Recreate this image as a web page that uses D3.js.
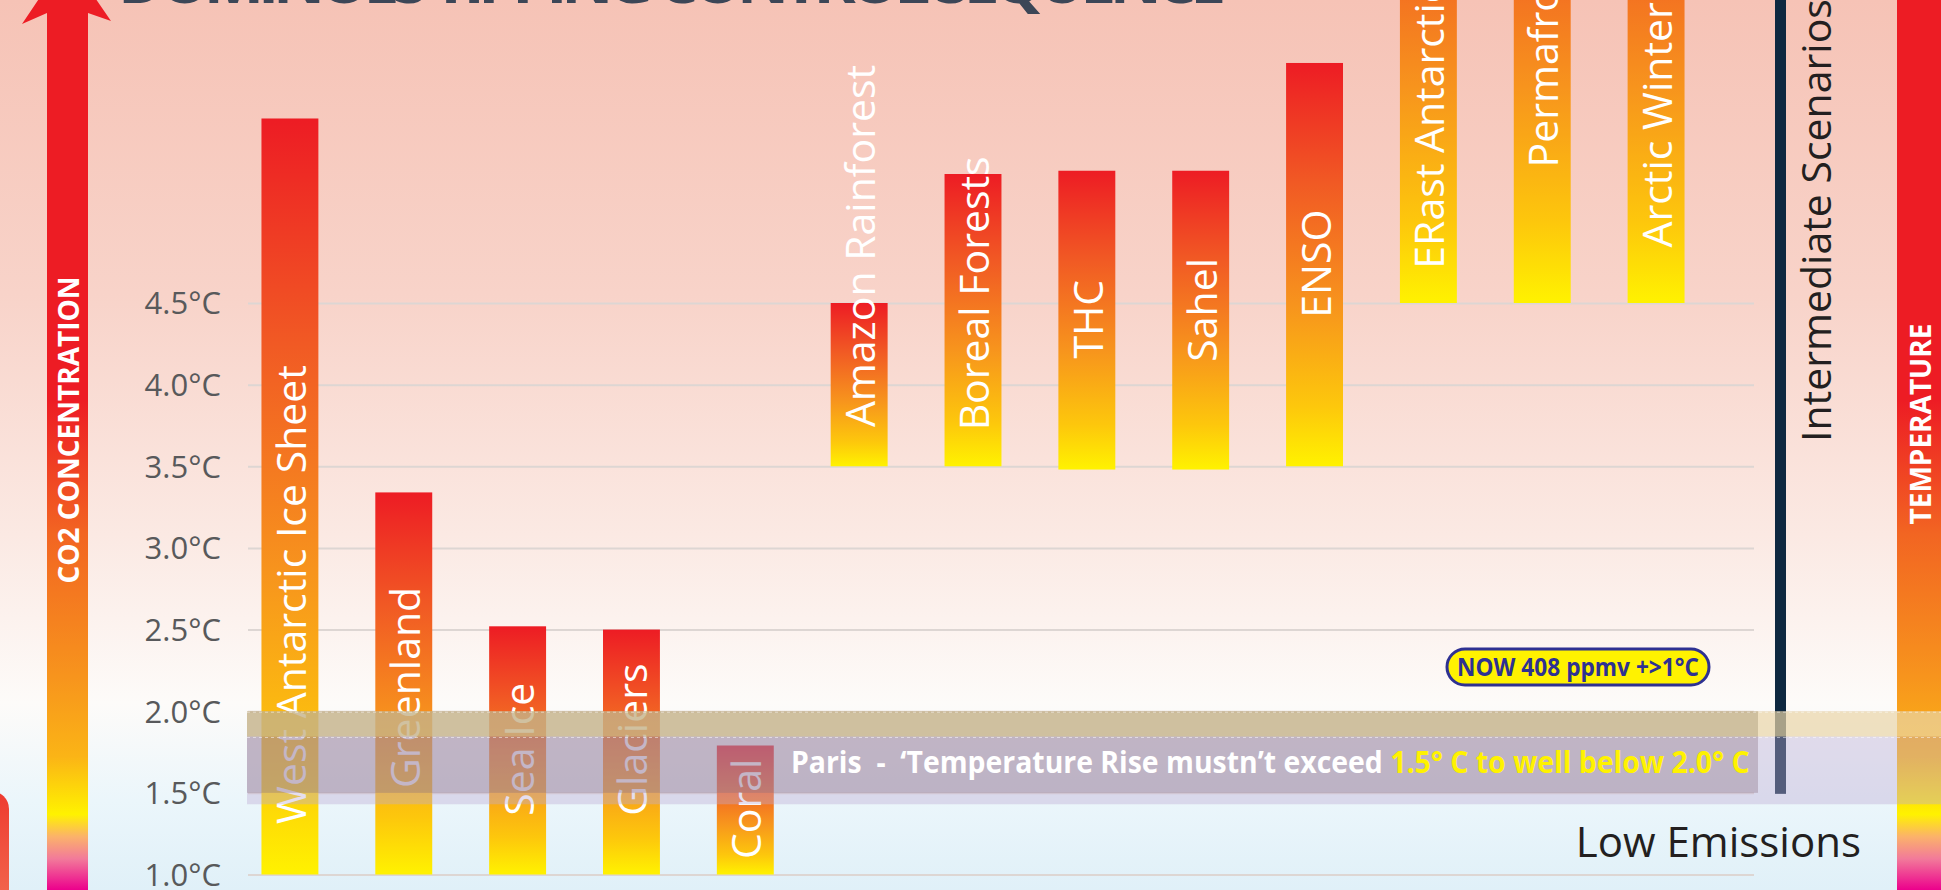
<!DOCTYPE html>
<html>
<head>
<meta charset="utf-8">
<script src="https://cdn.jsdelivr.net/npm/d3@7"></script>
<style>
  body { margin: 0; overflow: hidden; background: #fff; }
  text { font-family: "Open Sans", "Noto Sans", sans-serif; }
</style>
</head>
<body>
<script>
var categories = ["West Antarctic Ice Sheet", "Greenland", "Sea Ice", "Glaciers", "Coral",
    "Amazon Rainforest", "Boreal Forests", "THC", "Sahel", "ENSO",
    "ERast Antarctic Ice Sheet", "Permafrost", "Arctic Winter Sea Ice"]
// bottom and top of each threshold range, in °C
var lowTemps = [1.0, 1.0, 1.0, 1.0, 1.0, 3.5, 3.5, 3.48, 3.48, 3.5, 4.5, 4.5, 4.5]
var highTemps = [5.63, 3.34, 2.52, 2.50, 1.79, 4.5, 5.29, 5.31, 5.31, 5.97, 7.8, 7.8, 7.8]
// where each label starts, in °C
var labelTemps = [1.31, 1.53, 1.36, 1.36, 1.095, 3.74, 3.72, 4.16, 4.14, 4.41, 4.71, 5.33, 4.84]
var tickTemps = [1.0, 1.5, 2.0, 2.5, 3.0, 3.5, 4.0, 4.5]
var parisRange = [1.5, 2.0]
var parisTanEdge = 1.845
var lightBandLow = 1.43

var width = 1941, height = 890

var svg = d3.select("body").append("svg")
    .attr("width", width)
    .attr("height", height)
var defs = svg.append("defs")

function vGrad(id, stops, userSpace) {
    var g = defs.append("linearGradient")
        .attr("id", id)
        .attr("x1", 0).attr("x2", 0)
    if (userSpace) {
        g.attr("gradientUnits", "userSpaceOnUse").attr("y1", 0).attr("y2", height)
    } else {
        g.attr("y1", 0).attr("y2", 1)
    }
    stops.forEach(s => {
        g.append("stop").attr("offset", s[0]).attr("stop-color", s[1])
    })
}

vGrad("bg", [[0, "#f6c3b6"], [0.33, "#f8d3c9"], [0.6, "#fbe9e3"], [0.79, "#fdfbf9"], [0.9, "#ebf6fb"], [1, "#e0f0f8"]])
vGrad("bar", [[0, "#ed1c24"], [0.3, "#f15a24"], [0.6, "#f7941d"], [0.85, "#fdc70c"], [1, "#fff200"]])
vGrad("scale", [[0, "#ed1c24"], [0.45, "#ed1c24"], [0.6, "#f26522"], [0.76, "#f7941d"], [0.85, "#fbb416"],
    [0.915, "#fff200"], [0.94, "#fbb26a"], [0.965, "#f27a9a"], [1, "#ec008c"]], true)
vGrad("stub", [[0, "#ee3a2f"], [1, "#f37356"]])

svg.append("rect")
    .attr("width", width)
    .attr("height", height)
    .attr("fill", "url(#bg)")

var x = d3.scaleBand()
    .domain(categories)
    .range([233, 1713])
    .paddingInner(0.5)
    .paddingOuter(0.25)

var y = d3.scaleLinear()
    .domain([1.0, 4.5])
    .range([874.5, 303])

// left arrow
svg.append("path")
    .attr("d", "M67,-43 L111,21 L88,13 L88,890 L47,890 L47,13 L22,24 Z")
    .attr("fill", "url(#scale)")
svg.append("rect")
    .attr("x", -40).attr("y", 791)
    .attr("width", 49).attr("height", 140)
    .attr("rx", 18)
    .attr("fill", "url(#stub)")
svg.append("text")
    .text("CO2 CONCENTRATION")
    .attr("transform", "translate(68,430) rotate(-90)")
    .attr("text-anchor", "middle")
    .attr("dominant-baseline", "central")
    .style("font-size", "28px")
    .style("font-weight", 700)
    .attr("fill", "#fff")

// right temperature bar
svg.append("rect")
    .attr("x", 1897).attr("y", 0)
    .attr("width", 50).attr("height", height)
    .attr("fill", "url(#scale)")
svg.append("text")
    .text("TEMPERATURE")
    .attr("transform", "translate(1920,424) rotate(-90)")
    .attr("text-anchor", "middle")
    .attr("dominant-baseline", "central")
    .style("font-size", "28px")
    .style("font-weight", 700)
    .attr("fill", "#fff")

// gridlines
var grid = svg.append("g")
    .attr("transform", "translate(248,0)")
    .call(d3.axisLeft(y).tickValues(tickTemps).tickSize(-(1754 - 248)).tickFormat(""))
grid.select(".domain").remove()
grid.selectAll("line").attr("stroke", "#ddd6d3").attr("stroke-width", 2)

// y labels
var yAxis = svg.append("g")
    .attr("transform", "translate(221,0)")
    .call(d3.axisLeft(y).tickValues(tickTemps).tickSize(0).tickPadding(0)
        .tickFormat(d => d3.format(".1f")(d) + "°C"))
yAxis.select(".domain").remove()
yAxis.selectAll("text")
    .attr("dy", "0.35em")
    .style("font-size", "31px")
    .style("font-family", "'Open Sans', sans-serif")
    .attr("fill", "#58595b")

// bars
categories.forEach((c, i) => {
    svg.append("rect")
        .attr("x", x(c))
        .attr("y", y(highTemps[i]))
        .attr("width", x.bandwidth())
        .attr("height", y(lowTemps[i]) - y(highTemps[i]))
        .attr("fill", "url(#bar)")
})
categories.forEach((c, i) => {
    svg.append("text")
        .text(c)
        .attr("transform", "translate(" + (x(c) + x.bandwidth() / 2) + "," + y(labelTemps[i]) + ") rotate(-90)")
        .attr("dominant-baseline", "central")
        .style("font-size", "41px")
        .attr("fill", "#fff")
})

// intermediate scenarios divider
svg.append("rect")
    .attr("x", 1775).attr("y", 0)
    .attr("width", 11).attr("height", y(parisRange[0]) + 1)
    .attr("fill", "#0e2840")
svg.append("text")
    .text("Intermediate Scenarios")
    .attr("transform", "translate(1815,442) rotate(-90)")
    .attr("dominant-baseline", "central")
    .style("font-size", "41px")
    .attr("fill", "#231f20")

// paris agreement band
svg.append("rect")
    .attr("x", 247).attr("y", y(parisRange[1]))
    .attr("width", width - 247).attr("height", y(lightBandLow) - y(parisRange[1]))
    .attr("fill", "rgba(190,172,213,0.4)")
svg.append("rect")
    .attr("x", 247).attr("y", y(parisRange[1]))
    .attr("width", width - 247).attr("height", y(parisTanEdge) - y(parisRange[1]))
    .attr("fill", "rgba(251,229,150,0.5)")
svg.append("rect")
    .attr("x", 247).attr("y", y(parisRange[1]))
    .attr("width", 1758 - 247).attr("height", y(parisTanEdge) - y(parisRange[1]))
    .attr("fill", "rgba(148,133,98,0.35)")
svg.append("rect")
    .attr("x", 247).attr("y", y(parisTanEdge))
    .attr("width", 1758 - 247).attr("height", y(parisRange[0]) - y(parisTanEdge))
    .attr("fill", "rgba(136,110,125,0.35)")
;[parisRange[1], parisTanEdge].forEach(t => {
    svg.append("line")
        .attr("x1", 247).attr("x2", width)
        .attr("y1", y(t) + 1).attr("y2", y(t) + 1)
        .attr("stroke", "rgba(255,255,255,0.5)")
        .attr("stroke-dasharray", "3,3")
})

var paris = svg.append("text")
    .attr("x", 0).attr("y", 0)
    .style("font-size", "31px")
    .style("font-weight", 700)
    .style("white-space", "pre")
paris.append("tspan").text("Paris  -  \u2018Temperature Rise mustn\u2019t exceed ").attr("fill", "#fff")
paris.append("tspan").text("1.5° C to well below 2.0° C").attr("fill", "#fff200")
var pw = paris.node().getComputedTextLength()
paris.attr("transform", "translate(791,773) scale(" + (959 / pw) + ",1)")

// current level pill
svg.append("rect")
    .attr("x", 1447).attr("y", 649)
    .attr("width", 262).attr("height", 36)
    .attr("rx", 18)
    .attr("fill", "#fff200")
    .attr("stroke", "#2e3192")
    .attr("stroke-width", 3)
var now = svg.append("text")
    .text("NOW 408 ppmv +>1°C")
    .attr("text-anchor", "middle")
    .style("font-size", "25px")
    .style("font-weight", 700)
    .attr("fill", "#2e3192")
var nw = now.node().getComputedTextLength()
now.attr("transform", "translate(1578,676) scale(" + (242 / nw) + ",1)")

svg.append("text")
    .text("Low Emissions")
    .attr("x", 1861).attr("y", 857)
    .attr("text-anchor", "end")
    .style("font-size", "42px")
    .attr("fill", "#231f20")

svg.append("text")
    .text("DOMINOES TIPPING CONTROL SEQUENCE")
    .attr("x", 118).attr("y", 3)
    .attr("textLength", 1108)
    .attr("lengthAdjust", "spacing")
    .style("font-size", "64px")
    .style("font-weight", 700)
    .attr("fill", "#3c4657")
</script>
</body>
</html>
